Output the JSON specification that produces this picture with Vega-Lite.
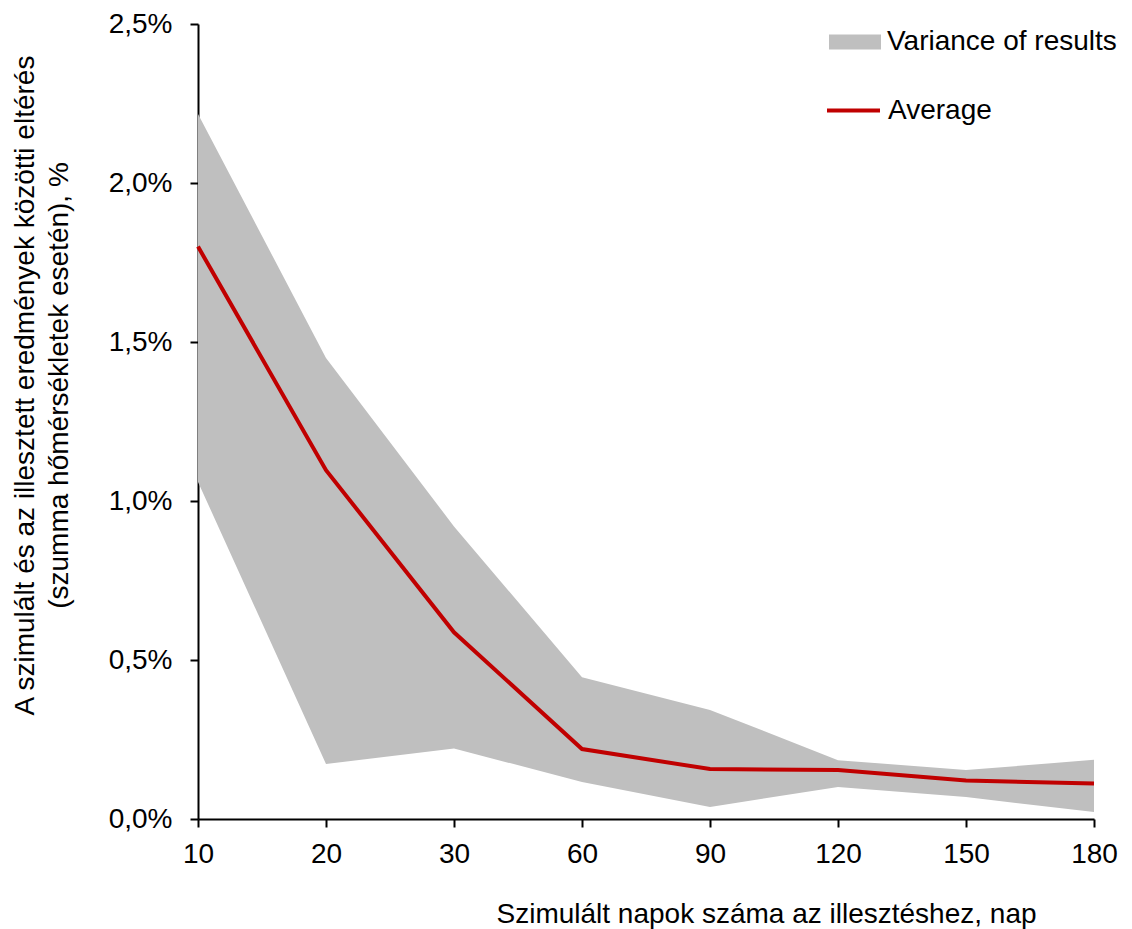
{
  "$schema": "https://vega.github.io/schema/vega-lite/v6.json",
  "width": 896,
  "height": 795,
  "autosize": {"type": "none"},
  "padding": {"left": 198, "top": 24, "right": 38, "bottom": 110},
  "background": "white",
  "config": {
    "view": {"stroke": null},
    "font": "Liberation Sans",
    "axis": {
      "grid": false,
      "domainColor": "black",
      "domainWidth": 2,
      "tickColor": "black",
      "tickWidth": 2,
      "tickSize": 8,
      "labelColor": "black",
      "labelFontSize": 28,
      "labelFont": "Liberation Sans",
      "titleFont": "Liberation Sans",
      "titleFontSize": 28,
      "titleFontWeight": "normal",
      "titleColor": "black",
      "zindex": 1
    },
    "legend": {
      "labelFont": "Liberation Sans",
      "labelFontSize": 28,
      "labelColor": "black",
      "labelLimit": 400,
      "padding": 0,
      "labelOffset": 6,
      "orient": "none"
    }
  },
  "data": {
    "values": [
      {"nap": 10, "lo": 1.06, "hi": 2.217, "avg": 1.80},
      {"nap": 20, "lo": 0.173, "hi": 1.45, "avg": 1.097},
      {"nap": 30, "lo": 0.222, "hi": 0.92, "avg": 0.587},
      {"nap": 60, "lo": 0.116, "hi": 0.446, "avg": 0.22},
      {"nap": 90, "lo": 0.038, "hi": 0.343, "avg": 0.157},
      {"nap": 120, "lo": 0.101, "hi": 0.185, "avg": 0.154},
      {"nap": 150, "lo": 0.069, "hi": 0.154, "avg": 0.121},
      {"nap": 180, "lo": 0.022, "hi": 0.186, "avg": 0.112}
    ]
  },
  "encoding": {
    "x": {
      "field": "nap",
      "type": "ordinal",
      "scale": {"type": "point", "padding": 0},
      "axis": {
        "labelAngle": 0,
        "labelPadding": 13,
        "title": "Szimulált napok száma az illesztéshez, nap",
        "titleX": 568,
        "titleY": 103,
        "titleAlign": "center",
        "titleBaseline": "alphabetic"
      }
    }
  },
  "layer": [
    {
      "mark": {"type": "area", "opacity": 1},
      "encoding": {
        "y": {
          "field": "lo",
          "type": "quantitative",
          "scale": {"domain": [0, 2.5], "nice": false},
          "axis": {
            "values": [0, 0.5, 1, 1.5, 2, 2.5],
            "labelExpr": "replace(format(datum.value, '.1f'), '.', ',') + '%'",
            "labelPadding": 18,
            "title": ["A szimulált és az illesztett eredmények közötti eltérés", "(szumma hőmérsékletek esetén), %"],
            "titleAngle": -90,
            "titleX": -165,
            "titleY": 361,
            "titleAlign": "center",
            "titleBaseline": "alphabetic",
            "titleLineHeight": 34
          }
        },
        "y2": {"field": "hi"},
        "fill": {
          "datum": "Variance of results",
          "type": "nominal",
          "scale": {"range": ["#BFBFBF"]},
          "legend": {
            "title": null,
            "symbolType": "M-1,-0.29H1V0.29H-1Z",
            "symbolSize": 2704,
            "symbolStrokeWidth": 0,
            "symbolOpacity": 1,
            "legendX": 631,
            "legendY": -8
          }
        }
      }
    },
    {
      "mark": {"type": "line", "strokeWidth": 4},
      "encoding": {
        "y": {"field": "avg", "type": "quantitative"},
        "stroke": {
          "datum": "Average",
          "type": "nominal",
          "scale": {"range": ["#C00000"]},
          "legend": {
            "title": null,
            "symbolType": "stroke",
            "symbolSize": 2809,
            "symbolStrokeWidth": 4,
            "legendX": 627,
            "legendY": 58
          }
        }
      }
    }
  ]
}
